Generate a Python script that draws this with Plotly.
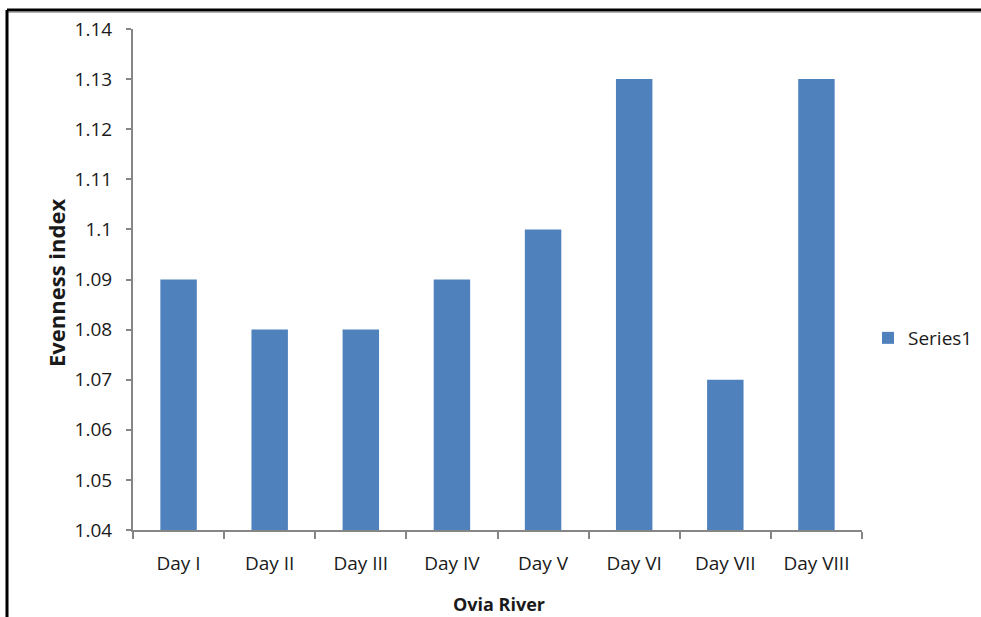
import plotly.graph_objects as go

# Evenness index per sampling day, Ovia River
days = ["Day I", "Day II", "Day III", "Day IV", "Day V", "Day VI", "Day VII", "Day VIII"]
evenness = [1.09, 1.08, 1.08, 1.09, 1.10, 1.13, 1.07, 1.13]

y_tick_vals = [1.04, 1.05, 1.06, 1.07, 1.08, 1.09, 1.10, 1.11, 1.12, 1.13, 1.14]
y_tick_text = ["1.04", "1.05", "1.06", "1.07", "1.08", "1.09", "1.1", "1.11", "1.12", "1.13", "1.14"]

FONT = "Open Sans"
AXIS_GREY = "#868686"
TEXT = "#1a1a1a"

W, H = 981, 617
L, R, T, B = 133, 119, 29, 87
pw, ph = W - L - R, H - T - B


def px_x(x):
    return (x - L) / pw


def px_y(y):
    return (H - B - y) / ph


fig = go.Figure()
fig.add_trace(go.Bar(
    x=days,
    y=[v - 1.04 for v in evenness],
    base=1.04,
    name="Series1",
    marker=dict(color="#4F81BD", line=dict(width=0)),
    showlegend=True,
))

fig.update_layout(
    width=W, height=H,
    margin=dict(l=L, r=R, t=T, b=B, autoexpand=False),
    paper_bgcolor="white",
    plot_bgcolor="white",
    bargap=0.6,
    font=dict(family=FONT, size=19, color=TEXT),
    showlegend=True,
    legend=dict(
        x=px_x(868), y=px_y(338),
        xanchor="left", yanchor="middle",
        font=dict(family=FONT, size=19, color=TEXT),
        bgcolor="rgba(0,0,0,0)",
        itemwidth=30,
    ),
    xaxis=dict(
        type="category",
        showline=True, linecolor=AXIS_GREY, linewidth=2,
        ticks="outside", ticklen=7, tickcolor=AXIS_GREY, tickwidth=2,
        tickson="boundaries",
        showgrid=False, zeroline=False,
        tickfont=dict(family=FONT, size=19, color=TEXT),
        ticklabelstandoff=15,
    ),
    yaxis=dict(
        range=[1.04, 1.14],
        tickvals=y_tick_vals, ticktext=y_tick_text,
        showline=True, linecolor=AXIS_GREY, linewidth=2,
        ticks="outside", ticklen=5, tickcolor=AXIS_GREY, tickwidth=2,
        showgrid=False, zeroline=False,
        tickfont=dict(family=FONT, size=19, color=TEXT),
        ticklabelstandoff=10,
    ),
    annotations=[
        dict(text="<b>Evenness index</b>", textangle=-90,
             xref="paper", yref="paper",
             x=px_x(56), y=px_y(283),
             xanchor="center", yanchor="middle", showarrow=False,
             font=dict(family=FONT, size=22, color=TEXT)),
        dict(text="<b>Ovia River</b>",
             xref="paper", yref="paper",
             x=px_x(499), y=px_y(604),
             xanchor="center", yanchor="middle", showarrow=False,
             font=dict(family=FONT, size=18, color=TEXT)),
    ],
    shapes=[
        # outer frame: top and left edges, with a faint shadow under the top edge
        dict(type="line", xref="paper", yref="paper",
             x0=px_x(7), x1=px_x(W), y0=px_y(12.5), y1=px_y(12.5),
             line=dict(color="#b0b0b0", width=1)),
        dict(type="line", xref="paper", yref="paper",
             x0=px_x(7), x1=px_x(W), y0=px_y(10), y1=px_y(10),
             line=dict(color="black", width=3)),
        dict(type="line", xref="paper", yref="paper",
             x0=px_x(7), x1=px_x(7), y0=px_y(10), y1=px_y(H),
             line=dict(color="black", width=3)),
    ],
)

fig.write_html("out.html")
